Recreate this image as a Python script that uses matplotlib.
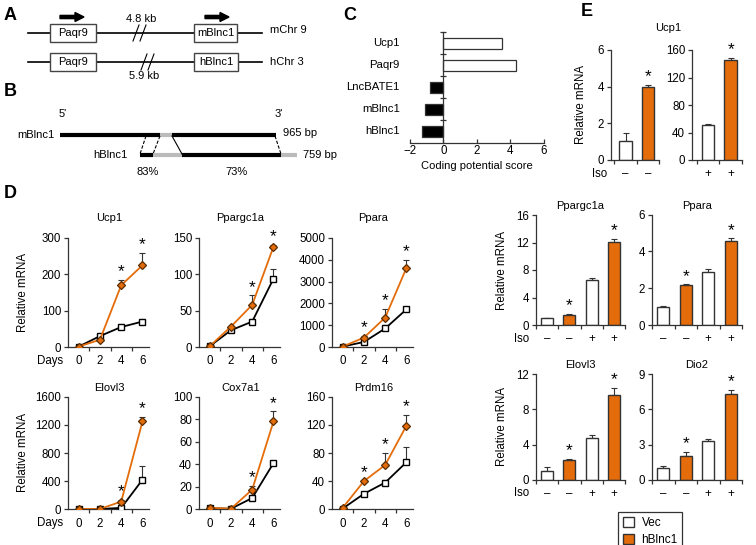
import numpy as np
import matplotlib
matplotlib.use("Agg")
import matplotlib.pyplot as plt
from matplotlib.patches import Rectangle, Patch
import matplotlib.transforms as mtrans

plt.rcParams['font.family'] = ['Liberation Sans', 'DejaVu Sans']
plt.rcParams['font.size'] = 7.5
plt.rcParams['xtick.labelsize'] = 8.3
plt.rcParams['ytick.labelsize'] = 8.3

ORANGE = '#E46C0A'
DARK = '#333333'

# ---- panel C data
cpc_genes = ['Ucp1', 'Paqr9', 'LncBATE1', 'mBlnc1', 'hBlnc1']
cpc_score = [3.5, 4.35, -0.8, -1.08, -1.3]

# ---- panel D data (time course)
days = [0, 2, 4, 6]
d_genes = ['Ucp1', 'Ppargc1a', 'Ppara', 'Elovl3', 'Cox7a1', 'Prdm16']
d_ymax = [300, 150, 5000, 1600, 100, 160]
d_ystep = [100, 50, 1000, 400, 20, 40]
vec_mean = [[1, 30, 55, 70], [1, 23, 35, 94], [20, 230, 850, 1730],
            [5, 5, 20, 420], [1, 0.5, 10, 41], [1, 22, 38, 67]]
vec_err = [[1, 5, 8, 6], [0.5, 2, 3, 14], [20, 60, 150, 80],
           [3, 3, 10, 200], [0.3, 0.3, 0.5, 1], [0.5, 1, 3, 22]]
hb_mean = [[1, 20, 170, 225], [1, 28, 58, 138], [20, 430, 1350, 3630],
           [5, 5, 110, 1250], [1.5, 0.5, 17.5, 78], [2, 40, 63, 119]]
hb_err = [[1, 3, 15, 35], [0.5, 1, 13, 3], [20, 60, 380, 370],
          [3, 3, 20, 60], [0.5, 0.3, 3, 9], [0.5, 1, 17, 15]]
hb_star = [[2, 3], [2, 3], [1, 2, 3], [2, 3], [2, 3], [1, 2, 3]]

# ---- panel E data (bars)
iso_lbl = ['\u2013', '\u2013', '+', '+']
ucp1_minus = [1.05, 4.0]
ucp1_minus_err = [0.4, 0.1]
ucp1_plus = [51, 146]
ucp1_plus_err = [1, 3]
e_genes = ['Ppargc1a', 'Ppara', 'Elovl3', 'Dio2']
e_ymax = [16, 6, 12, 9]
e_ystep = [4, 2, 4, 3]
e_mean = [[1.0, 1.5, 6.6, 12.1], [1.0, 2.15, 2.9, 4.55],
          [1.05, 2.27, 4.7, 9.6], [1.0, 2.05, 3.3, 7.3]]
e_err = [[0.05, 0.1, 0.3, 0.4], [0.05, 0.05, 0.15, 0.15],
         [0.4, 0.1, 0.45, 0.8], [0.15, 0.35, 0.15, 0.35]]

W, H = 756, 545
fig = plt.figure(figsize=(W / 100, H / 100), dpi=100)


def box(l, t, r, b):
    return [l / W, 1 - b / H, (r - l) / W, (b - t) / H]


def clean(ax):
    for s in ['top', 'right']:
        ax.spines[s].set_visible(False)
    for s in ['left', 'bottom']:
        ax.spines[s].set_color(DARK)
        ax.spines[s].set_linewidth(0.9)
    ax.tick_params(colors=DARK, labelcolor='black', width=0.9, length=3, pad=2)


def star(ax, x, y):
    ax.annotate('*', (x, y), xytext=(0, 0.5), textcoords='offset points',
                ha='center', va='bottom', fontsize=12.5)


# ---------------- background axes for schematics and letters
bg = fig.add_axes([0, 0, 1, 1], zorder=-1)
bg.set_xlim(0, W)
bg.set_ylim(H, 0)
bg.axis('off')

for x, y, s in [(4, 15, 'A'), (4, 92, 'B'), (343, 15, 'C'), (4, 193, 'D'), (581, 12, 'E')]:
    bg.text(x, y, s, fontsize=13, fontweight='bold', va='center', ha='left')


def gene_box(x0, x1, yc, label):
    bg.add_patch(Rectangle((x0, yc - 9), x1 - x0, 18, facecolor='white',
                           edgecolor='#444444', lw=1, zorder=3))
    bg.text((x0 + x1) / 2, yc, label, ha='center', va='center', zorder=4, fontsize=8)


def slashes(x, yc):
    for dx in (0, 7):
        bg.plot([x + dx, x + dx + 6], [yc + 8, yc - 8], color='black', lw=0.8)


# panel A
bg.plot([28, 262], [33, 33], color='black', lw=1.2)
bg.plot([28, 262], [62, 62], color='black', lw=1.2)
gene_box(50, 96, 33, 'Paqr9')
gene_box(194, 237, 33, 'mBlnc1')
gene_box(50, 96, 62, 'Paqr9')
gene_box(194, 238, 62, 'hBlnc1')
slashes(133, 33)
slashes(141, 62)
for x0 in (60, 205):
    bg.arrow(x0, 17, 24, 0, width=3.2, head_width=9, head_length=9,
             length_includes_head=True, color='black')
bg.text(141, 19, '4.8 kb', ha='center', va='center', fontsize=8)
bg.text(144, 76, '5.9 kb', ha='center', va='center', fontsize=8)
bg.text(270, 30, 'mChr 9', ha='left', va='center', fontsize=8)
bg.text(270, 62, 'hChr 3', ha='left', va='center', fontsize=8)

# panel B
GRAY = '#bbbbbb'
bg.text(63, 114, "5'", ha='center', va='center', fontsize=8)
bg.text(279, 114, "3'", ha='center', va='center', fontsize=8)
bg.text(55, 135, 'mBlnc1', ha='right', va='center', fontsize=8)
bg.text(127, 155, 'hBlnc1', ha='right', va='center', fontsize=8)
for x0, x1, c in [(60, 160, 'black'), (160, 172, GRAY), (172, 276, 'black')]:
    bg.plot([x0, x1], [135, 135], color=c, lw=3, solid_capstyle='butt')
for x0, x1, c in [(140, 153, 'black'), (153, 182, GRAY), (182, 281, 'black'), (281, 297, GRAY)]:
    bg.plot([x0, x1], [155, 155], color=c, lw=3, solid_capstyle='butt')
bg.plot([146, 140], [136, 154], color='black', lw=0.8, ls=(0, (3, 1.5)))
bg.plot([160, 153], [136, 154], color='black', lw=0.8, ls=(0, (3, 1.5)))
bg.plot([172, 182], [136, 154], color='black', lw=0.8)
bg.plot([275, 281], [136, 154], color='black', lw=0.8, ls=(0, (3, 1.5)))
bg.text(283, 133, '965 bp', ha='left', va='center', fontsize=8)
bg.text(303, 155, '759 bp', ha='left', va='center', fontsize=8)
bg.text(148, 172, '83%', ha='center', va='center', fontsize=8)
bg.text(237, 172, '73%', ha='center', va='center', fontsize=8)

# ---------------- panel C
axc = fig.add_axes(box(410, 32, 543.5, 142.5))
ypos = np.arange(len(cpc_genes))
axc.barh(ypos, cpc_score, height=0.5,
         color=['white' if v > 0 else 'black' for v in cpc_score],
         edgecolor='#333333', lw=0.9)
axc.set_xlim(-2, 6)
axc.set_ylim(len(cpc_genes) - 0.5, -0.5)
clean(axc)
axc.spines['left'].set_position(('data', 0))
axc.set_yticks(np.arange(-0.5, len(cpc_genes) - 0.5, 1))
axc.set_yticklabels([])
axc.tick_params(axis='y', direction='inout', length=5)
axc.tick_params(axis='x', direction='in', length=3)
axc.set_xticks([-2, 0, 2, 4, 6])
tr = mtrans.blended_transform_factory(axc.transAxes, axc.transData)
for i, g in enumerate(cpc_genes):
    axc.text(-0.075, i, g, transform=tr, ha='right', va='center', fontsize=8.2)
axc.set_xlabel('Coding potential score', labelpad=3, fontsize=8)

# ---------------- panel D
rows = [(238, 347), (396.7, 509.3)]
cols = [68, 199, 332]
for k, g in enumerate(d_genes):
    t, b = rows[k // 3]
    l = cols[k % 3]
    ax = fig.add_axes(box(l, t, l + 83, b))
    ax.errorbar(days, vec_mean[k], yerr=[np.zeros(4), vec_err[k]], fmt='none',
                ecolor='#333333', elinewidth=0.8, capsize=2, capthick=0.8, zorder=1)
    ax.errorbar(days, hb_mean[k], yerr=[np.zeros(4), hb_err[k]], fmt='none',
                ecolor='#333333', elinewidth=0.8, capsize=2, capthick=0.8, zorder=1)
    ax.plot(days, vec_mean[k], color='black', lw=1.3, marker='s', ms=5,
            mfc='white', mec='black', mew=1, zorder=3)
    ax.plot(days, hb_mean[k], color=ORANGE, lw=1.3, marker='D', ms=4.5,
            mfc=ORANGE, mec='#5a2d00', mew=0.9, zorder=4)
    for i in hb_star[k]:
        star(ax, days[i], hb_mean[k][i] + hb_err[k][i])
    ax.set_xlim(-1, 6.8)
    ax.set_ylim(0, d_ymax[k])
    ax.set_yticks(np.arange(0, d_ymax[k] + 1, d_ystep[k]))
    ax.set_xticks(days)
    ax.set_xticks([1, 3, 5], minor=True)
    clean(ax)
    ax.tick_params(axis='x', which='major', length=0, pad=6)
    ax.tick_params(axis='x', which='minor', length=3, width=0.9, colors=DARK)
    ax.set_title(g, fontsize=8, pad=12 if k < 3 else 4)
    ax.spines['bottom'].set_bounds(-1, 6.6)
    ax.spines['bottom'].set_clip_on(False)
    if k % 3 == 0:
        ax.set_ylabel('Relative mRNA', fontsize=8.3)
        ax.yaxis.set_label_coords(-0.47, 0.5)
        ax.text(-0.06, -0.125, 'Days', transform=ax.transAxes, ha='right', va='center',
                fontsize=8.3)

# ---------------- panel E upper (Ucp1)
bg.text(668, 28, 'Ucp1', ha='center', va='center', fontsize=8)


def bar_panel(rect, means, errs, labels, ymax, ystep, xlim, ylabel_x=None,
              iso_x=None, title=None):
    ax = fig.add_axes(rect)
    n = len(means)
    x = np.arange(n)
    colors = ['white' if i % 2 == 0 else ORANGE for i in range(n)]
    ax.bar(x, means, width=0.55, color=colors, edgecolor='#333333', lw=1, zorder=2)
    ax.errorbar(x, means, yerr=[np.zeros(n), errs], fmt='none', ecolor='#333333',
                elinewidth=0.8, capsize=2, capthick=0.8, zorder=1)
    for i in range(1, n, 2):
        star(ax, x[i], means[i] + errs[i])
    ax.set_xlim(*xlim)
    ax.set_ylim(0, ymax)
    ax.set_yticks(np.arange(0, ymax + 0.01, ystep))
    ax.set_xticks(x)
    ax.set_xticklabels(labels)
    ax.set_xticks(np.arange(-0.5, n, 1.0), minor=True)
    clean(ax)
    ax.tick_params(axis='x', which='major', length=0, pad=6)
    ax.tick_params(axis='x', which='minor', length=3, width=0.9, colors=DARK)
    if title:
        ax.set_title(title, fontsize=8, pad=4)
    if ylabel_x is not None:
        ax.set_ylabel('Relative mRNA', fontsize=8.3)
        ax.yaxis.set_label_coords(ylabel_x, 0.5)
    if iso_x is not None:
        ax.text(iso_x, -0.125, 'Iso', transform=ax.transAxes, ha='right', va='center',
                fontsize=8.3)
    return ax


bar_panel(box(611, 50, 659, 160), ucp1_minus, ucp1_minus_err, iso_lbl[:2], 6, 2,
          (-0.65, 1.45), ylabel_x=-0.5, iso_x=-0.08)
bar_panel(box(692, 50, 742, 160), ucp1_plus, ucp1_plus_err, iso_lbl[2:], 160, 40,
          (-0.7, 1.5))

e_rects = [box(536, 215, 625, 325), box(652, 214.5, 742, 325),
           box(536, 374, 625, 480), box(652, 374, 742, 480)]
for k, g in enumerate(e_genes):
    left = k % 2 == 0
    bar_panel(e_rects[k], e_mean[k], e_err[k], iso_lbl, e_ymax[k], e_ystep[k],
              (-0.5, 3.5), ylabel_x=-0.31 if left else None,
              iso_x=-0.08 if left else None, title=g)

handles = [Patch(facecolor='white', edgecolor='#333333', lw=1),
           Patch(facecolor=ORANGE, edgecolor='#333333', lw=1)]
leg = fig.legend(handles, ['Vec', 'hBlnc1'], loc='upper left',
                 bbox_to_anchor=(612 / W, 1 - 506 / H), frameon=True, fancybox=False,
                 edgecolor='black', fontsize=8.5, handlelength=1.0, handleheight=1.0,
                 borderpad=0.4, labelspacing=0.4, handletextpad=0.6)
leg.get_frame().set_linewidth(0.9)

fig.savefig('out.png', dpi=100)
